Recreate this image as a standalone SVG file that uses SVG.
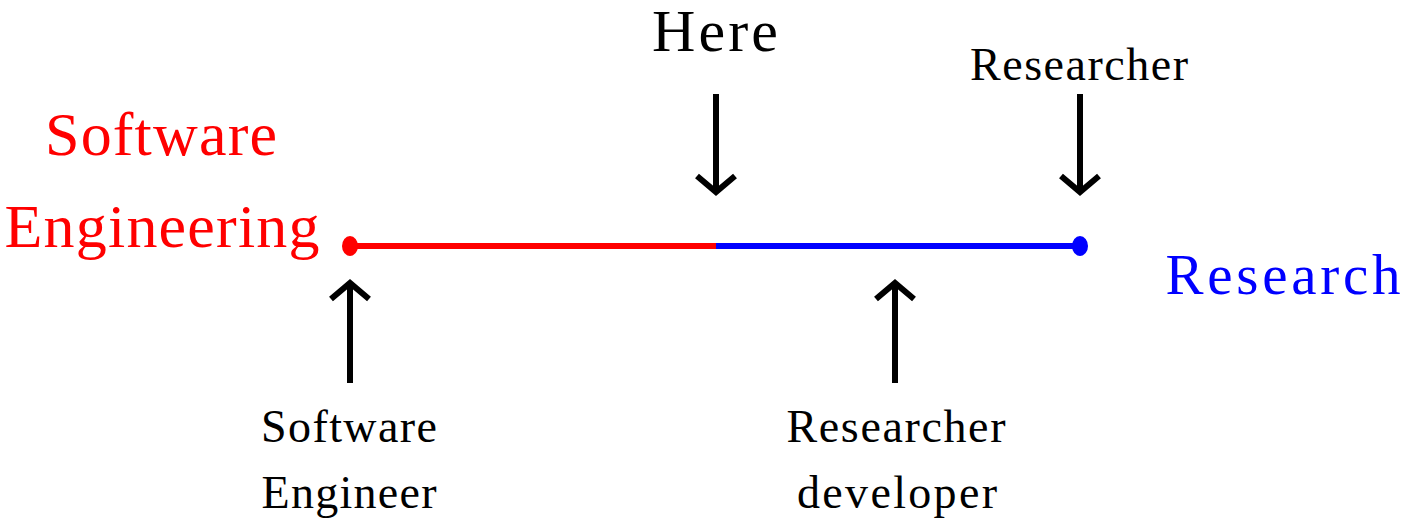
<svg xmlns="http://www.w3.org/2000/svg" width="1408" height="526" viewBox="0 0 1408 526">
<style>
text{font-family:"Liberation Serif","DejaVu Serif",serif;text-anchor:middle}
.big{font-size:62px}
.mid{font-size:46px}
.arr{stroke:#000;stroke-width:6;fill:none}
</style>
<rect width="1408" height="526" fill="#fff"/>
<g id="axis">
<line x1="350" y1="246" x2="716" y2="246" stroke="#ff0000" stroke-width="6"/>
<line x1="716" y1="246" x2="1080" y2="246" stroke="#0000ff" stroke-width="6"/>
<ellipse cx="350" cy="246" rx="8" ry="10" fill="#ff0000"/>
<ellipse cx="1080" cy="246" rx="8" ry="10" fill="#0000ff"/>
</g>
<g id="label-se">
<text class="big" x="161" y="155" fill="#ff0000" textLength="232">Software</text>
<text class="big" x="162" y="247" fill="#ff0000" textLength="315">Engineering</text>
</g>
<g id="label-research">
<text x="1283" y="294" fill="#0000ff" font-size="57" textLength="235">Research</text>
</g>
<g id="label-here">
<text x="715" y="51" font-size="60" textLength="126">Here</text>
</g>
<g id="label-researcher">
<text class="mid" x="1079" y="80" textLength="218">Researcher</text>
</g>
<g id="label-engineer">
<text class="mid" x="349" y="442" textLength="176">Software</text>
<text class="mid" x="349" y="508" textLength="175">Engineer</text>
</g>
<g id="label-resdev">
<text class="mid" x="896" y="442" textLength="219">Researcher</text>
<text class="mid" x="897" y="508" textLength="200">developer</text>
</g>
<g id="connectors">
<path class="arr" d="M716 94V191M697 176L716 192L735 176"/>
<path class="arr" d="M1080 94V191M1061 176L1080 192L1099 176"/>
<path class="arr" d="M350 383V284M331 299L350 283L369 299"/>
<path class="arr" d="M895 383V284M876 299L895 283L914 299"/>
</g>
</svg>
